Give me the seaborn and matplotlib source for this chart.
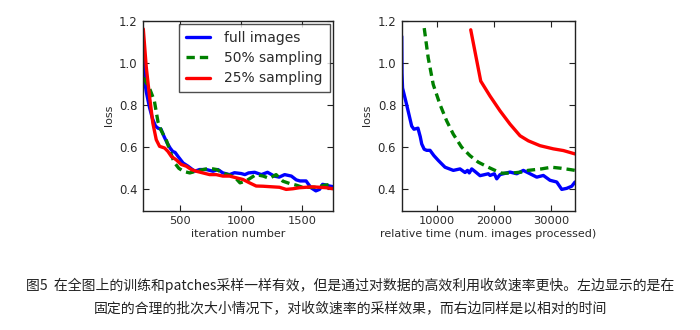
import matplotlib
matplotlib.use("Agg")
import matplotlib.pyplot as plt
import seaborn as sns
import pandas as pd

# ---------------- data ----------------
# left panel: loss vs iteration number
iter_full = [200, 205, 212, 225, 250, 275, 300, 320, 345, 370, 395, 420, 440, 460, 485, 525, 565,
             620, 660, 715, 770, 810, 850, 905, 945, 1000, 1030, 1060, 1110, 1165, 1215, 1270,
             1310, 1355, 1410, 1450, 1480, 1530, 1570, 1610, 1640, 1665, 1695, 1720, 1750]
loss_full = [1.12, 1.0, 0.91, 0.86, 0.79, 0.735, 0.70, 0.69, 0.685, 0.65, 0.62, 0.595, 0.58, 0.575,
             0.555, 0.525, 0.51, 0.486, 0.494, 0.494, 0.486, 0.494, 0.478, 0.47, 0.479, 0.475,
             0.47, 0.478, 0.481, 0.47, 0.481, 0.463, 0.458, 0.47, 0.463, 0.445, 0.44, 0.44,
             0.408, 0.393, 0.40, 0.424, 0.42, 0.416, 0.413]

iter_50 = [200, 250, 290, 320, 345, 390, 420, 450, 490, 530, 580, 630, 690, 740, 800, 850, 890,
           930, 960, 990, 1040, 1080, 1120, 1180, 1230, 1285, 1340, 1395, 1450, 1500, 1560,
           1620, 1680, 1750]
loss_50 = [0.93, 0.88, 0.82, 0.72, 0.68, 0.63, 0.58, 0.53, 0.50, 0.485, 0.478, 0.486, 0.494,
           0.50, 0.494, 0.478, 0.47, 0.463, 0.45, 0.431, 0.44, 0.455, 0.47, 0.463, 0.452, 0.47,
           0.439, 0.428, 0.42, 0.41, 0.41, 0.41, 0.42, 0.424]

iter_25 = [200, 224, 251, 278, 306, 333, 374, 401, 428, 469, 510, 551, 592, 633, 687, 742, 796,
           850, 905, 959, 1014, 1068, 1122, 1177, 1258, 1313, 1367, 1422, 1476, 1531, 1585,
           1640, 1694, 1750]
loss_25 = [1.16, 0.98, 0.84, 0.714, 0.635, 0.604, 0.596, 0.58, 0.557, 0.54, 0.518, 0.51, 0.494,
           0.486, 0.478, 0.47, 0.47, 0.463, 0.463, 0.455, 0.447, 0.431, 0.416, 0.415, 0.412,
           0.41, 0.40, 0.403, 0.408, 0.41, 0.412, 0.41, 0.408, 0.403]

# right panel: loss vs relative time (num. images processed)
time_full = [3754, 3800, 3900, 4630, 5500, 5900, 6600, 7000, 7263, 7700, 8140, 8720, 9400, 10175,
             11350, 12807, 13982, 14860, 15300, 15600, 16035, 16600, 17491, 18947, 19246, 20000,
             20421, 21000, 21579, 22754, 23930, 25088, 26263, 27439, 28596, 29772, 30947,
             31825, 32702, 33579, 34158]
rloss_full = [1.125, 0.95, 0.88, 0.80, 0.70, 0.685, 0.69, 0.65, 0.615, 0.59, 0.585, 0.585, 0.56,
              0.537, 0.505, 0.49, 0.497, 0.48, 0.49, 0.478, 0.497, 0.485, 0.465, 0.474, 0.466,
              0.474, 0.45, 0.47, 0.474, 0.482, 0.474, 0.49, 0.474, 0.458, 0.466, 0.443, 0.435,
              0.40, 0.405, 0.415, 0.435]

time_50 = [7700, 8400, 9280, 10456, 11630, 12790, 14260, 15720, 17175, 18930, 20120, 21230,
           22980, 24740, 25910, 28250, 30000, 31750, 33510, 34158]
rloss_50 = [1.164, 1.023, 0.897, 0.803, 0.725, 0.662, 0.60, 0.56, 0.529, 0.505, 0.49, 0.477,
            0.477, 0.482, 0.49, 0.497, 0.505, 0.50, 0.493, 0.49]

time_25 = [15860, 17614, 19246, 21000, 22754, 24509, 25965, 28017, 30351, 32105, 34158]
rloss_25 = [1.156, 0.913, 0.842, 0.772, 0.709, 0.654, 0.63, 0.607, 0.592, 0.584, 0.568]

labels = ["full images", "50% sampling", "25% sampling"]
yticks = [0.4, 0.6, 0.8, 1.0, 1.2]
xticks_left = [500, 1000, 1500]
xticks_right = [10000, 20000, 30000]

caption1 = "图5  在全图上的训练和patches采样一样有效，但是通过对数据的高效利用收敛速率更快。左边显示的是在"
caption2 = "固定的合理的批次大小情况下，对收敛速率的采样效果，而右边同样是以相对的时间"

# ---------------- style ----------------
sns.set_style("ticks")
plt.rcParams["font.family"] = ["DejaVu Sans"]
plt.rcParams.update({
    "xtick.direction": "in", "ytick.direction": "in",
    "xtick.top": True, "ytick.right": True,
    "xtick.major.size": 4, "ytick.major.size": 4,
    "xtick.color": "#222222", "ytick.color": "#222222",
    "axes.edgecolor": "#222222", "axes.linewidth": 1.0,
})

TXT = "#2a2a2a"
colors = ["#0000ff", "#008000", "#ff0000"]
lw = 2.4
dash = (0, (2.5, 1.5))

fig = plt.figure(figsize=(7.0, 3.3), dpi=100)
axL = fig.add_axes([143.3 / 700, 1 - 210.5 / 330, (333 - 143.3) / 700, (210.5 - 20.5) / 330])
axR = fig.add_axes([401.7 / 700, 1 - 210.5 / 330, (575 - 401.7) / 700, (210.5 - 20.5) / 330])

dfL = [pd.DataFrame({"x": iter_full, "y": loss_full}),
       pd.DataFrame({"x": iter_50, "y": loss_50}),
       pd.DataFrame({"x": iter_25, "y": loss_25})]
dfR = [pd.DataFrame({"x": time_full, "y": rloss_full}),
       pd.DataFrame({"x": time_50, "y": rloss_50}),
       pd.DataFrame({"x": time_25, "y": rloss_25})]

for ax, dfs, leg in ((axL, dfL, True), (axR, dfR, False)):
    for i, (d, c, lab) in enumerate(zip(dfs, colors, labels)):
        kw = dict(linestyle=dash) if i == 1 else {}
        sns.lineplot(data=d, x="x", y="y", ax=ax, color=c, lw=lw,
                     label=lab if leg else None, legend=leg, **kw)
    ax.set_ylim(0.3, 1.2)
    ax.set_yticks(yticks)
    ax.set_yticklabels([f"{v:.1f}" for v in yticks], fontsize=8.4, color=TXT)
    ax.set_ylabel("loss", fontsize=8, color=TXT, labelpad=4)
    ax.tick_params(axis="both", which="both", pad=4)
    for s in ax.spines.values():
        s.set_visible(True)

axL.set_xlim(200, 1750)
axL.set_xticks(xticks_left)
axL.set_xticklabels([str(v) for v in xticks_left], fontsize=8.2, color=TXT)
axL.set_xlabel("iteration number", fontsize=8, color=TXT, labelpad=2)

axR.set_xlim(3750, 34150)
axR.set_xticks(xticks_right)
axR.set_xticklabels([str(v) for v in xticks_right], fontsize=8.2, color=TXT)
axR.set_xlabel("relative time (num. images processed)", fontsize=8, color=TXT, labelpad=2)

lg = axL.legend(loc="upper right", fontsize=10, frameon=True, fancybox=False,
                borderaxespad=0.25, handlelength=1.75, labelspacing=0.45,
                handletextpad=1.0, borderpad=0.5)
lg.get_frame().set_edgecolor("#222222")
lg.get_frame().set_linewidth(1.0)
for t in lg.get_texts():
    t.set_color(TXT)

cjk = ["Noto Sans CJK SC", "DejaVu Sans"]
fig.text(0.5, 1 - 285 / 330, caption1, ha="center", va="center", fontsize=10,
         family=cjk, color="#222222")
fig.text(0.5, 1 - 308 / 330, caption2, ha="center", va="center", fontsize=10,
         family=cjk, color="#222222")

fig.savefig("out.png", dpi=100, facecolor="white")
